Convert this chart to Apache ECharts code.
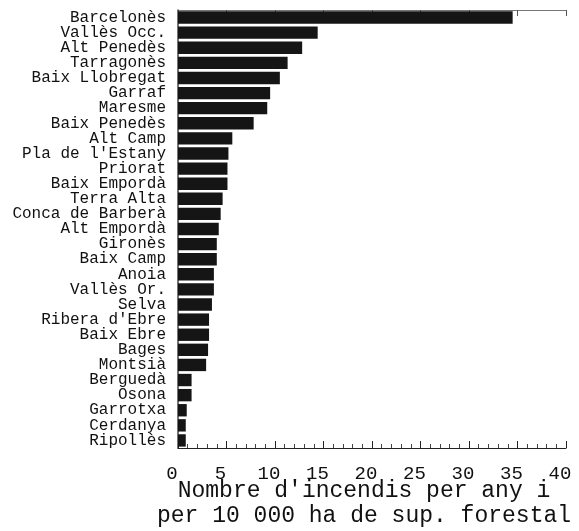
<!DOCTYPE html>
<html>
<head>
<meta charset="utf-8">
<script src="https://cdn.jsdelivr.net/npm/echarts@6/dist/echarts.min.js"></script>
<style>
  html, body { margin: 0; padding: 0; background: #fff; }
  #chart { width: 579px; height: 531px; }
</style>
</head>
<body>
<div id="chart"></div>
<script>
// Comarques, ordered from highest to lowest fire frequency
const comarques = [
  'Barcelonès', 'Vallès Occ.', 'Alt Penedès', 'Tarragonès', 'Baix Llobregat',
  'Garraf', 'Maresme', 'Baix Penedès', 'Alt Camp', "Pla de l'Estany",
  'Priorat', 'Baix Empordà', 'Terra Alta', 'Conca de Barberà', 'Alt Empordà',
  'Gironès', 'Baix Camp', 'Anoia', 'Vallès Or.', 'Selva',
  "Ribera d'Ebre", 'Baix Ebre', 'Bages', 'Montsià', 'Berguedà',
  'Osona', 'Garrotxa', 'Cerdanya', 'Ripollès'
];

// Fires per year per 10 000 ha of forest surface
const incendis = [
  34.5, 14.4, 12.8, 11.3, 10.5,
  9.5, 9.2, 7.8, 5.6, 5.2,
  5.1, 5.1, 4.6, 4.4, 4.2,
  4.0, 4.0, 3.7, 3.7, 3.5,
  3.2, 3.2, 3.1, 2.9, 1.4,
  1.4, 0.9, 0.8, 0.8
];

const xTicks = { min: 0, max: 40, interval: 5 };
const axisTitle = "Nombre d'incendis per any i\nper 10 000 ha de sup. forestal";

const mono = 'Liberation Mono';
const chart = echarts.init(document.getElementById('chart'));

chart.setOption({
  animation: false,
  backgroundColor: '#fff',
  grid: {
    left: 178, right: 13, top: 10, bottom: 83,
    containLabel: false, outerBoundsMode: 'none'
  },
  xAxis: [
    {
      type: 'value',
      position: 'bottom',
      min: xTicks.min, max: xTicks.max, interval: xTicks.interval,
      splitLine: { show: false },
      axisLine: { show: true, lineStyle: { color: '#222', width: 1 } },
      axisTick: { show: true, inside: true, length: 7, lineStyle: { color: '#222' } },
      minorTick: { show: true, splitNumber: 5, length: 4, lineStyle: { color: '#444' } },
      axisLabel: {
        fontFamily: mono, fontSize: 19, color: '#111', margin: 16,
        padding: [0, 12, 0, 0]
      },
      name: axisTitle,
      nameLocation: 'middle',
      nameGap: 30,
      nameMoveOverlap: false,
      nameTextStyle: {
        fontFamily: mono, fontSize: 23, color: '#111', lineHeight: 25,
        padding: [0, 16, 0, 0]
      }
    },
    {
      type: 'value',
      position: 'top',
      min: xTicks.min, max: xTicks.max, interval: xTicks.interval,
      splitLine: { show: false },
      axisLine: { show: true, lineStyle: { color: '#777', width: 1 } },
      axisTick: { show: true, inside: true, length: 6, lineStyle: { color: '#555' } },
      minorTick: { show: false },
      axisLabel: { show: false }
    }
  ],
  yAxis: [
    {
      type: 'category',
      inverse: true,
      data: comarques,
      axisLine: { show: false },
      axisTick: { show: false },
      axisLabel: {
        fontFamily: mono, fontSize: 16, color: '#111', margin: 12,
        interval: 0
      }
    },
    {
      type: 'category',
      position: 'right',
      inverse: true,
      data: comarques,
      axisLine: { show: true, lineStyle: { color: '#444', width: 1.5 } },
      axisTick: { show: false },
      axisLabel: { show: false }
    }
  ],
  series: [
    {
      type: 'bar',
      xAxisIndex: 0,
      yAxisIndex: 0,
      data: incendis,
      barWidth: '82%',
      itemStyle: { color: '#151515' },
      silent: true
    }
  ]
});
</script>
</body>
</html>
